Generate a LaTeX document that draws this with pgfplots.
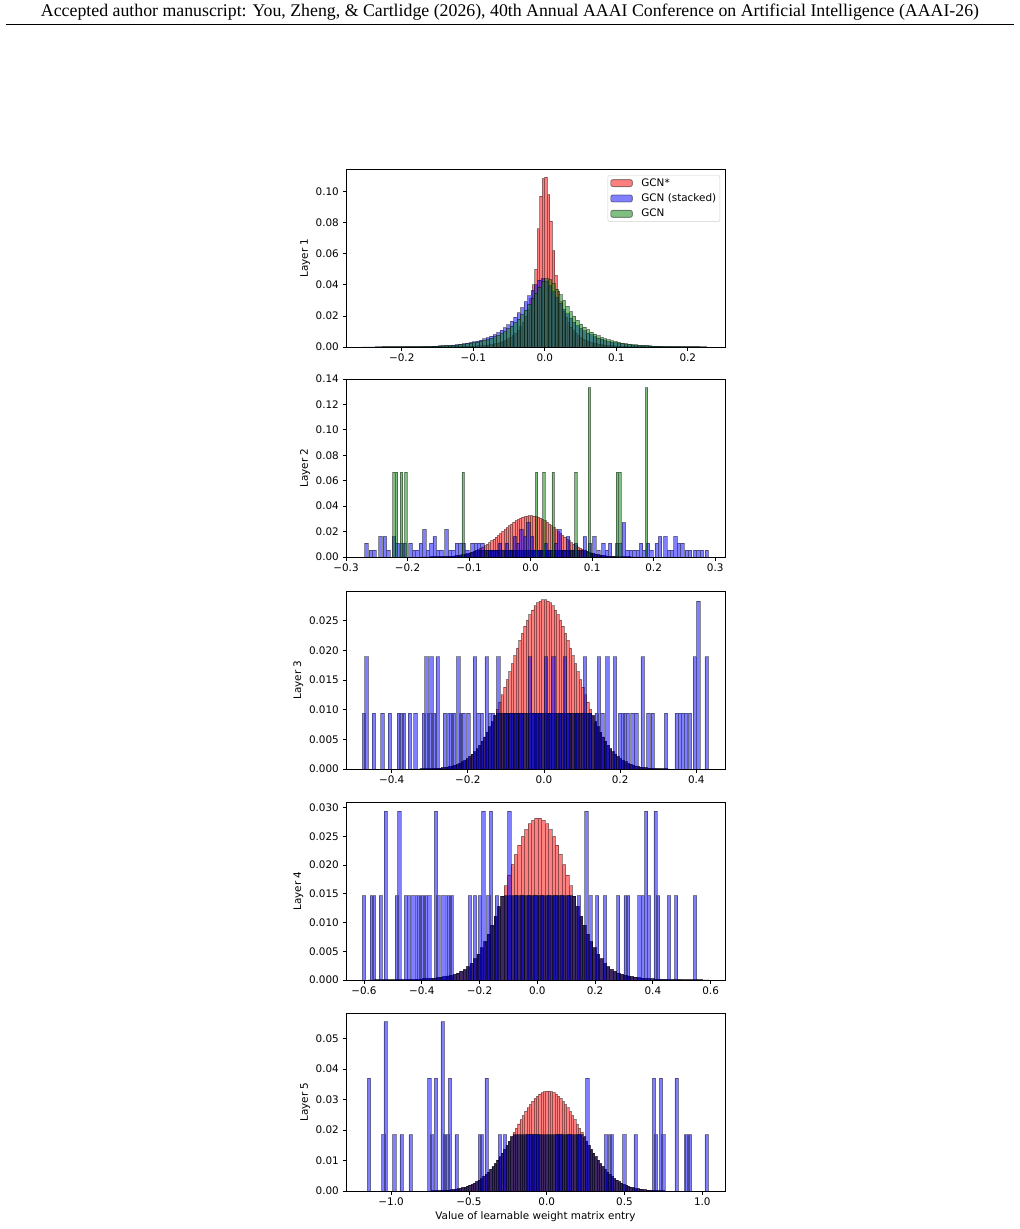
\documentclass[border=0pt]{standalone}
\usepackage{fontspec}
\setmainfont{DejaVu Sans}
\newfontfamily\headfont{Liberation Serif}
\usepackage{graphicx}
\usepackage{pgfplots}
\usepackage{pgfplotstable}
\pgfplotsset{compat=1.18}
\definecolor{mplgreen}{RGB}{0,128,0}
\definecolor{overlap}{RGB}{0,10,88}

% GCN* histograms (one column of bin heights per layer, bins equally spaced)
\pgfplotstableread[row sep=\\, header=false]{
0.00003\\0.00004\\0.00004\\0.00005\\0.00006\\0.00007\\0.00008\\0.00009\\0.0001\\0.00012\\
0.00014\\0.00016\\0.00018\\0.0002\\0.00024\\0.00027\\0.0003\\0.00035\\0.0004\\0.00045\\
0.0005\\0.0006\\0.0007\\0.0008\\0.00095\\0.0011\\0.0013\\0.0015\\0.0018\\0.0022\\
0.0026\\0.0031\\0.0037\\0.0044\\0.0052\\0.0062\\0.0075\\0.009\\0.0108\\0.013\\
0.016\\0.0195\\0.024\\0.031\\0.040\\0.050\\0.076\\0.097\\0.1085\\0.1092\\
0.098\\0.081\\0.062\\0.046\\0.036\\0.029\\0.023\\0.019\\0.0155\\0.0128\\
0.0106\\0.0088\\0.0073\\0.0061\\0.0051\\0.0043\\0.0036\\0.003\\0.0025\\0.0021\\
0.0018\\0.0015\\0.0013\\0.0011\\0.00095\\0.0008\\0.0007\\0.0006\\0.0005\\0.00045\\
0.0004\\0.00035\\0.0003\\0.00027\\0.00024\\0.0002\\0.00018\\0.00016\\0.00014\\0.00012\\
0.0001\\0.00009\\0.00008\\0.00007\\0.00006\\0.00005\\0.00004\\0.00004\\0.00003\\0.00003\\
}\redA
\pgfplotstableread[row sep=\\, header=false]{
0.00003\\0.00003\\0.00004\\0.00005\\0.00006\\0.00007\\0.00008\\0.0001\\0.0001\\0.00012\\
0.00013\\0.00015\\0.00018\\0.0002\\0.00022\\0.00027\\0.0003\\0.00037\\0.0004\\0.00047\\
0.0005\\0.0006\\0.0007\\0.0008\\0.001\\0.0011\\0.0013\\0.0015\\0.0018\\0.0021\\
0.0025\\0.0029\\0.0033\\0.0039\\0.0045\\0.0052\\0.006\\0.007\\0.008\\0.0093\\
0.0108\\0.0124\\0.0143\\0.0166\\0.0192\\0.022\\0.0254\\0.0292\\0.0329\\0.0364\\
0.0401\\0.043\\0.044\\0.0425\\0.0393\\0.0355\\0.0321\\0.0282\\0.0244\\0.0214\\
0.0185\\0.016\\0.0138\\0.012\\0.0104\\0.009\\0.0078\\0.0067\\0.0058\\0.005\\
0.0043\\0.0037\\0.0032\\0.0028\\0.0024\\0.002\\0.0017\\0.0015\\0.0013\\0.0011\\
0.0009\\0.0008\\0.0007\\0.0006\\0.0005\\0.00045\\0.0004\\0.00035\\0.0003\\0.00025\\
0.0002\\0.0002\\0.00015\\0.00013\\0.0001\\0.0001\\0.00008\\0.00006\\0.00005\\0.00004\\
}\blueA
\pgfplotstableread[row sep=\\, header=false]{
0.00002\\0.00002\\0.00003\\0.00003\\0.00004\\0.00005\\0.00006\\0.00007\\0.00008\\0.0001\\
0.00011\\0.00013\\0.00015\\0.00017\\0.0002\\0.00022\\0.00026\\0.0003\\0.00035\\0.0004\\
0.00045\\0.0005\\0.0006\\0.0007\\0.0008\\0.0009\\0.001\\0.0012\\0.0014\\0.0017\\
0.002\\0.0023\\0.0027\\0.0031\\0.0036\\0.0042\\0.0048\\0.0056\\0.0065\\0.0075\\
0.0087\\0.0101\\0.0117\\0.0134\\0.0155\\0.0179\\0.0208\\0.0237\\0.0274\\0.0313\\
0.0347\\0.0385\\0.0419\\0.0439\\0.0433\\0.0408\\0.0372\\0.0336\\0.03\\0.0262\\
0.0227\\0.0198\\0.0171\\0.0148\\0.0128\\0.0111\\0.0096\\0.0083\\0.0072\\0.0062\\
0.0053\\0.0046\\0.004\\0.0034\\0.0029\\0.0025\\0.0021\\0.0018\\0.0016\\0.0014\\
0.0012\\0.001\\0.0009\\0.0007\\0.0006\\0.0006\\0.0005\\0.00043\\0.00038\\0.00033\\
0.00028\\0.00024\\0.0002\\0.00018\\0.00015\\0.00013\\0.0001\\0.00009\\0.00008\\0.00006\\
}\greenA
\pgfplotstableread[row sep=\\, header=false]{
0.00001\\0.00002\\0.00003\\0.00004\\0.00006\\0.00008\\0.0001\\0.00013\\0.00017\\0.00021\\
0.00027\\0.00035\\0.00044\\0.00055\\0.00069\\0.00085\\0.001\\0.0013\\0.0016\\0.0019\\
0.0023\\0.0027\\0.0032\\0.0038\\0.0044\\0.0052\\0.006\\0.0069\\0.0079\\0.009\\
0.0101\\0.0114\\0.0127\\0.0141\\0.0156\\0.0171\\0.0186\\0.0201\\0.0217\\0.0232\\
0.0247\\0.026\\0.0274\\0.0286\\0.0296\\0.0305\\0.0313\\0.0319\\0.0323\\0.0325\\
0.0325\\0.0323\\0.0319\\0.0313\\0.0305\\0.0296\\0.0286\\0.0274\\0.026\\0.0247\\
0.0232\\0.0217\\0.0201\\0.0186\\0.0171\\0.0156\\0.0141\\0.0127\\0.0114\\0.0101\\
0.009\\0.0079\\0.0069\\0.006\\0.0052\\0.0044\\0.0038\\0.0032\\0.0027\\0.0023\\
0.0019\\0.0016\\0.0013\\0.001\\0.00085\\0.00069\\0.00055\\0.00044\\0.00035\\0.00027\\
0.00021\\0.00017\\0.00013\\0.0001\\0.00008\\0.00006\\0.00004\\0.00003\\0.00002\\0.00001\\
}\redB
\pgfplotstableread[row sep=\\, header=false]{
0.00001\\0.00002\\0.00003\\0.00004\\0.00006\\0.00007\\0.0001\\0.00012\\0.00016\\0.0002\\
0.00026\\0.00033\\0.00041\\0.00051\\0.00064\\0.00079\\0.00097\\0.0012\\0.0014\\0.0017\\
0.0021\\0.0025\\0.0029\\0.0034\\0.004\\0.0047\\0.0054\\0.0062\\0.0071\\0.008\\
0.009\\0.0101\\0.0113\\0.0125\\0.0138\\0.0151\\0.0164\\0.0178\\0.0191\\0.0204\\
0.0217\\0.0229\\0.0241\\0.0251\\0.026\\0.0268\\0.0275\\0.028\\0.0283\\0.0285\\
0.0285\\0.0283\\0.028\\0.0275\\0.0268\\0.026\\0.0251\\0.0241\\0.0229\\0.0217\\
0.0204\\0.0191\\0.0178\\0.0164\\0.0151\\0.0138\\0.0125\\0.0113\\0.0101\\0.009\\
0.008\\0.0071\\0.0062\\0.0054\\0.0047\\0.004\\0.0034\\0.0029\\0.0025\\0.0021\\
0.0017\\0.0014\\0.0012\\0.00097\\0.00079\\0.00064\\0.00051\\0.00041\\0.00033\\0.00026\\
0.0002\\0.00016\\0.00012\\0.0001\\0.00007\\0.00006\\0.00004\\0.00003\\0.00002\\0.00001\\
}\redC
\pgfplotstableread[row sep=\\, header=false]{
0.00001\\0.00001\\0.00002\\0.00002\\0.00003\\0.00003\\0.00004\\0.00004\\0.00005\\0.00006\\
0.00007\\0.00008\\0.0001\\0.00012\\0.00014\\0.00017\\0.0002\\0.00025\\0.0003\\0.00035\\
0.0004\\0.0005\\0.0006\\0.0007\\0.0008\\0.001\\0.0012\\0.0015\\0.0018\\0.0023\\
0.0029\\0.0037\\0.0045\\0.0056\\0.0067\\0.008\\0.0095\\0.0111\\0.0128\\0.0146\\
0.0164\\0.0183\\0.0201\\0.0219\\0.0235\\0.025\\0.0262\\0.0272\\0.0278\\0.0282\\
0.0282\\0.0278\\0.0272\\0.0262\\0.025\\0.0235\\0.0219\\0.0201\\0.0183\\0.0164\\
0.0146\\0.0128\\0.0111\\0.0095\\0.008\\0.0067\\0.0056\\0.0045\\0.0037\\0.0029\\
0.0023\\0.0018\\0.0015\\0.0012\\0.001\\0.0008\\0.0007\\0.0006\\0.0005\\0.0004\\
0.00035\\0.0003\\0.00025\\0.0002\\0.00017\\0.00014\\0.00012\\0.0001\\0.00008\\0.00007\\
0.00006\\0.00005\\0.00004\\0.00004\\0.00003\\0.00003\\0.00002\\0.00002\\0.00001\\0.00001\\
}\redD
\pgfplotstableread[row sep=\\, header=false]{
0.00006\\0.00008\\0.0001\\0.00013\\0.00017\\0.0002\\0.00026\\0.00033\\0.0004\\0.0005\\
0.00061\\0.00075\\0.0009\\0.0011\\0.0013\\0.0016\\0.0019\\0.0022\\0.0026\\0.0031\\
0.0036\\0.0041\\0.0048\\0.0055\\0.0062\\0.0071\\0.008\\0.009\\0.0101\\0.0112\\
0.0124\\0.0137\\0.015\\0.0164\\0.0178\\0.0192\\0.0206\\0.022\\0.0234\\0.0248\\
0.0261\\0.0273\\0.0284\\0.0294\\0.0304\\0.0311\\0.0318\\0.0323\\0.0326\\0.0328\\
0.0328\\0.0326\\0.0323\\0.0318\\0.0311\\0.0304\\0.0294\\0.0284\\0.0273\\0.0261\\
0.0248\\0.0234\\0.022\\0.0206\\0.0192\\0.0178\\0.0164\\0.015\\0.0137\\0.0124\\
0.0112\\0.0101\\0.009\\0.008\\0.0071\\0.0062\\0.0055\\0.0048\\0.0041\\0.0036\\
0.0031\\0.0026\\0.0022\\0.0019\\0.0016\\0.0013\\0.0011\\0.0009\\0.00075\\0.00061\\
0.0005\\0.0004\\0.00033\\0.00026\\0.0002\\0.00017\\0.00013\\0.0001\\0.00008\\0.00006\\
}\redE

\pgfplotsset{
  hbar/.style={ybar, bar shift=0pt, bar width=#1, draw=black, draw opacity=0.42,
    fill opacity=0.5, line width=0.85pt,
    legend image code/.code={\draw[##1] (0pt,-3.5pt) rectangle (21.6pt,3.5pt); \path (29pt,0pt);}},
  % darker band where the GCN* bins sit under the stacked-model bins
  under/.style={hbar=#1, fill=overlap, fill opacity=0.75, forget plot},
  zeroline/.style={forget plot, draw=black, draw opacity=0.5, line width=0.9pt},
  panel/.style={scale only axis, width=379pt, height=178pt, anchor=south west,
    axis line style={black, line width=0.8pt}, tick align=outside, tick pos=left,
    major tick length=3.5pt, tick style={black, line width=0.8pt},
    ymin=0, scaled x ticks=false, scaled y ticks=false,
    ylabel style={inner sep=2pt}},
}

\begin{document}
\fontsize{10.4}{12.5}\selectfont
\begin{tikzpicture}
\path[use as bounding box] (0pt,0pt) rectangle (1020pt,-1229pt);
\node[anchor=base] at (510pt,-16.8pt) {\headfont\resizebox{938pt}{!}{Accepted author manuscript: You, Zheng, \& Cartlidge (2026), 40th Annual AAAI Conference on Artificial Intelligence (AAAI-26)}};
\draw[line width=0.9pt] (6pt,-24.3pt) -- (1014pt,-24.3pt);

% Layer 1
\begin{axis}[panel, at={(346pt,-347pt)}, xmin=-0.278, xmax=0.252, ymax=0.1145,
  xtick={-0.2,-0.1,0,0.1,0.2}, xticklabels={−0.2,−0.1,0.0,0.1,0.2},
  ytick={0,0.02,0.04,0.06,0.08,0.10}, yticklabels={0.00,0.02,0.04,0.06,0.08,0.10},
  ylabel={Layer 1},
  legend style={at={(rel axis cs:0.987,0.966)}, anchor=north east, draw=black!18,
    rounded corners=2pt, fill=white, inner xsep=2.5pt, inner ysep=2pt, row sep=3.6pt,
    nodes={inner sep=1.2pt}},
  legend cell align=left]
\addplot[hbar=0.0035, fill=red] table[x expr={-0.16975+0.0035*\coordindex}, y index=0] {\redA};
\addlegendentry{GCN*}
\addplot[hbar=0.00482, fill=blue] table[x expr={-0.25305+0.00482*\coordindex}, y index=0] {\blueA};
\addlegendentry{GCN (stacked)}
\addplot[hbar=0.00482, fill=mplgreen] table[x expr={-0.25305+0.00482*\coordindex}, y index=0] {\greenA};
\addlegendentry{GCN}
\end{axis}

% Layer 2
\begin{axis}[panel, at={(346pt,-557pt)}, xmin=-0.300, xmax=0.316, ymax=0.14,
  xtick={-0.3,-0.2,-0.1,0,0.1,0.2,0.3}, xticklabels={−0.3,−0.2,−0.1,0.0,0.1,0.2,0.3},
  ytick={0,0.02,0.04,0.06,0.08,0.10,0.12,0.14}, yticklabels={0.00,0.02,0.04,0.06,0.08,0.10,0.12,0.14},
  ylabel={Layer 2}]
\addplot[zeroline] coordinates {(-0.272,0) (0.288,0)};
\addplot[hbar=0.0036, fill=red] table[x expr={-0.1782+0.0036*\coordindex}, y index=0] {\redB};
\addplot[under=0.0036, y filter/.expression={min(y,0.0054)}] table[x expr={-0.1782+0.0036*\coordindex}, y index=0] {\redB};
\addplot[hbar=0.0056, fill=blue] coordinates {
(-0.2667,0.0109) (-0.2596,0.0054) (-0.2540,0.0054) (-0.2439,0.0163) (-0.2368,0.0163)
(-0.2312,0.0054) (-0.2217,0.0163) (-0.2161,0.0109) (-0.2098,0.0109) (-0.2042,0.0109)
(-0.1951,0.0109) (-0.1895,0.0054) (-0.1839,0.0054) (-0.1783,0.0109) (-0.1727,0.0217)
(-0.1671,0.0054) (-0.1615,0.0109) (-0.1559,0.0163) (-0.1503,0.0054) (-0.1447,0.0054)
(-0.1366,0.0217) (-0.1310,0.0054) (-0.1254,0.0054) (-0.1198,0.0109) (-0.1142,0.0109)
(-0.1086,0.0109) (-0.1030,0.0054) (-0.0948,0.0109) (-0.0892,0.0109) (-0.0836,0.0109)
(-0.0780,0.0109) (-0.0661,0.0054) (-0.0607,0.0054) (-0.0551,0.0054) (-0.0495,0.0109)
(-0.0383,0.0109) (-0.0327,0.0054) (-0.0259,0.0163) (-0.0203,0.0109) (-0.0147,0.0217)
(-0.0091,0.0163) (-0.0035,0.0272) (0.0021,0.0163) (0.0077,0.0054) (0.0133,0.0054)
(0.0189,0.0054) (0.0245,0.0109) (0.0301,0.0054) (0.0413,0.0109) (0.0469,0.0217)
(0.0553,0.0054) (0.0609,0.0163) (0.0737,0.0109) (0.0883,0.0163) (0.0964,0.0109)
(0.1035,0.0163) (0.1100,0.0054) (0.1181,0.0109) (0.1237,0.0054) (0.1293,0.0109)
(0.1405,0.0109) (0.1461,0.0109) (0.1517,0.0272) (0.1573,0.0054) (0.1629,0.0054)
(0.1685,0.0054) (0.1741,0.0054) (0.1797,0.0109) (0.1853,0.0054) (0.1909,0.0109)
(0.1965,0.0054) (0.2049,0.0109) (0.2105,0.0163) (0.2189,0.0163) (0.2245,0.0054)
(0.2301,0.0054) (0.2357,0.0163) (0.2413,0.0109) (0.2469,0.0109) (0.2537,0.0054)
(0.2593,0.0054) (0.2672,0.0054) (0.2728,0.0054) (0.2784,0.0054) (0.2862,0.0054)};
\addplot[hbar=0.0041, fill=mplgreen] coordinates {
(-0.2217,0.0667) (-0.2179,0.0667) (-0.2098,0.0667) (-0.2027,0.0667) (-0.1095,0.0667)
(0.0097,0.0667) (0.0216,0.0667) (0.0368,0.0667) (0.0737,0.0667) (0.0954,0.1333)
(0.1409,0.0667) (0.1452,0.0667) (0.1886,0.1333)};
\end{axis}

% Layer 3
\begin{axis}[panel, at={(346pt,-769pt)}, xmin=-0.520, xmax=0.4754, ymax=0.0300,
  xtick={-0.4,-0.2,0,0.2,0.4}, xticklabels={−0.4,−0.2,0.0,0.2,0.4},
  ytick={0,0.005,0.010,0.015,0.020,0.025}, yticklabels={0.000,0.005,0.010,0.015,0.020,0.025},
  ylabel={Layer 3}]
\addplot[zeroline] coordinates {(-0.4748,0) (0.4302,0)};
\addplot[hbar=0.0066, fill=red] table[x expr={-0.3267+0.0066*\coordindex}, y index=0] {\redC};
\addplot[under=0.0066, y filter/.expression={min(y,0.0094)}] table[x expr={-0.3267+0.0066*\coordindex}, y index=0] {\redC};
\addplot[hbar=0.00905, fill=blue] coordinates {
(-0.4728,0.0094) (-0.4658,0.0189) (-0.4466,0.0094) (-0.4238,0.0094) (-0.4046,0.0094)
(-0.3810,0.0094) (-0.3745,0.0094) (-0.3678,0.0094) (-0.3520,0.0094) (-0.3371,0.0094)
(-0.3153,0.0094) (-0.3083,0.0189) (-0.3013,0.0094) (-0.2951,0.0189) (-0.2890,0.0094)
(-0.2793,0.0189) (-0.2601,0.0094) (-0.2487,0.0094) (-0.2426,0.0094) (-0.2364,0.0094)
(-0.2251,0.0189) (-0.2181,0.0094) (-0.2119,0.0094) (-0.1988,0.0094) (-0.1813,0.0189)
(-0.1725,0.0094) (-0.1637,0.0094) (-0.1506,0.0189) (-0.1418,0.0094) (-0.1340,0.0094)
(-0.1199,0.0189) (-0.0990,0.0094) (-0.0859,0.0094) (-0.0727,0.0094) (-0.0596,0.0094)
(-0.0368,0.0189) (-0.0280,0.0094) (-0.0193,0.0094) (-0.0105,0.0094) (0.0053,0.0189)
(0.0157,0.0094) (0.0245,0.0189) (0.0420,0.0094) (0.0552,0.0189) (0.0640,0.0094)
(0.0859,0.0094) (0.1077,0.0189) (0.1209,0.0094) (0.1384,0.0094) (0.1445,0.0189)
(0.1533,0.0094) (0.1664,0.0189) (0.1865,0.0189) (0.1996,0.0094) (0.2066,0.0094)
(0.2127,0.0094) (0.2197,0.0094) (0.2328,0.0094) (0.2424,0.0094) (0.2592,0.0189)
(0.2740,0.0094) (0.2854,0.0094) (0.3204,0.0094) (0.3484,0.0094) (0.3572,0.0094)
(0.3642,0.0094) (0.3729,0.0094) (0.3834,0.0094) (0.3964,0.0189) (0.4054,0.0283)
(0.4273,0.0189)};
\end{axis}

% Layer 4
\begin{axis}[panel, at={(346pt,-980pt)}, xmin=-0.6622, xmax=0.6497, ymax=0.0310,
  xtick={-0.6,-0.4,-0.2,0,0.2,0.4,0.6}, xticklabels={−0.6,−0.4,−0.2,0.0,0.2,0.4,0.6},
  ytick={0,0.005,0.010,0.015,0.020,0.025,0.030}, yticklabels={0.000,0.005,0.010,0.015,0.020,0.025,0.030},
  ylabel={Layer 4}]
\addplot[zeroline] coordinates {(-0.6026,0) (0.5901,0)};
\addplot[hbar=0.0118, fill=red] table[x expr={-0.5806+0.0118*\coordindex}, y index=0] {\redD};
\addplot[under=0.0118, y filter/.expression={min(y,0.0147)}] table[x expr={-0.5806+0.0118*\coordindex}, y index=0] {\redD};
\addplot[hbar=0.0115, fill=blue] coordinates {
(-0.5999,0.0147) (-0.5733,0.0147) (-0.5653,0.0147) (-0.5422,0.0147) (-0.5249,0.0294)
(-0.4868,0.0147) (-0.4776,0.0294) (-0.4545,0.0147) (-0.4441,0.0147) (-0.4291,0.0147)
(-0.4153,0.0147) (-0.4084,0.0147) (-0.4003,0.0147) (-0.3945,0.0147) (-0.3853,0.0147)
(-0.3738,0.0147) (-0.3507,0.0294) (-0.3426,0.0147) (-0.3253,0.0147) (-0.3114,0.0147)
(-0.3045,0.0147) (-0.2964,0.0147) (-0.2330,0.0147) (-0.2157,0.0147) (-0.1984,0.0147)
(-0.1868,0.0294) (-0.1695,0.0147) (-0.1603,0.0294) (-0.1400,0.0147) (-0.0968,0.0294)
(-0.0750,0.0147) (-0.0520,0.0147) (-0.0290,0.0147) (-0.0060,0.0147) (0.0170,0.0147)
(0.0400,0.0147) (0.0630,0.0147) (0.0860,0.0147) (0.1100,0.0147) (0.1440,0.0147)
(0.1705,0.0294) (0.1844,0.0147) (0.2075,0.0147) (0.2340,0.0147) (0.2802,0.0147)
(0.3056,0.0147) (0.3148,0.0147) (0.3540,0.0147) (0.3656,0.0147) (0.3771,0.0294)
(0.3863,0.0147) (0.4094,0.0294) (0.4186,0.0147) (0.4556,0.0147) (0.4809,0.0147)
(0.5456,0.0147)};
\end{axis}

% Layer 5
\begin{axis}[panel, at={(346pt,-1191pt)}, xmin=-1.290, xmax=1.146, ymax=0.0584,
  xtick={-1,-0.5,0,0.5,1}, xticklabels={−1.0,−0.5,0.0,0.5,1.0},
  ytick={0,0.01,0.02,0.03,0.04,0.05}, yticklabels={0.00,0.01,0.02,0.03,0.04,0.05},
  ylabel={Layer 5}, xlabel={Value of learnable weight matrix entry},
  xlabel style={inner sep=2pt}]
\addplot[zeroline] coordinates {(-1.1795,0) (1.035,0)};
\addplot[hbar=0.015, fill=red] table[x expr={-0.7345+0.015*\coordindex}, y index=0] {\redE};
\addplot[under=0.015, y filter/.expression={min(y,0.0185)}] table[x expr={-0.7345+0.015*\coordindex}, y index=0] {\redE};
\addplot[hbar=0.0221, fill=blue] coordinates {
(-1.1421,0.0370) (-1.0500,0.0185) (-1.0350,0.0556) (-0.9793,0.0185) (-0.9322,0.0185)
(-0.8744,0.0185) (-0.7544,0.0370) (-0.7394,0.0185) (-0.7116,0.0370) (-0.6687,0.0556)
(-0.6537,0.0185) (-0.6387,0.0185) (-0.6216,0.0370) (-0.5788,0.0185) (-0.4288,0.0185)
(-0.4181,0.0185) (-0.3860,0.0370) (-0.3003,0.0185) (-0.2681,0.0185) (-0.1200,0.0185)
(-0.1000,0.0185) (-0.0750,0.0185) (-0.0550,0.0185) (0.0650,0.0185) (0.0900,0.0185)
(0.1450,0.0185) (0.2100,0.0185) (0.2611,0.0370) (0.3811,0.0185) (0.4068,0.0185)
(0.4175,0.0185) (0.4989,0.0185) (0.5717,0.0185) (0.6895,0.0370) (0.7024,0.0185)
(0.7345,0.0370) (0.7495,0.0185) (0.8352,0.0370) (0.8951,0.0185) (0.9058,0.0185)
(0.9208,0.0185) (1.0280,0.0185)};
\end{axis}
\end{tikzpicture}
\end{document}
